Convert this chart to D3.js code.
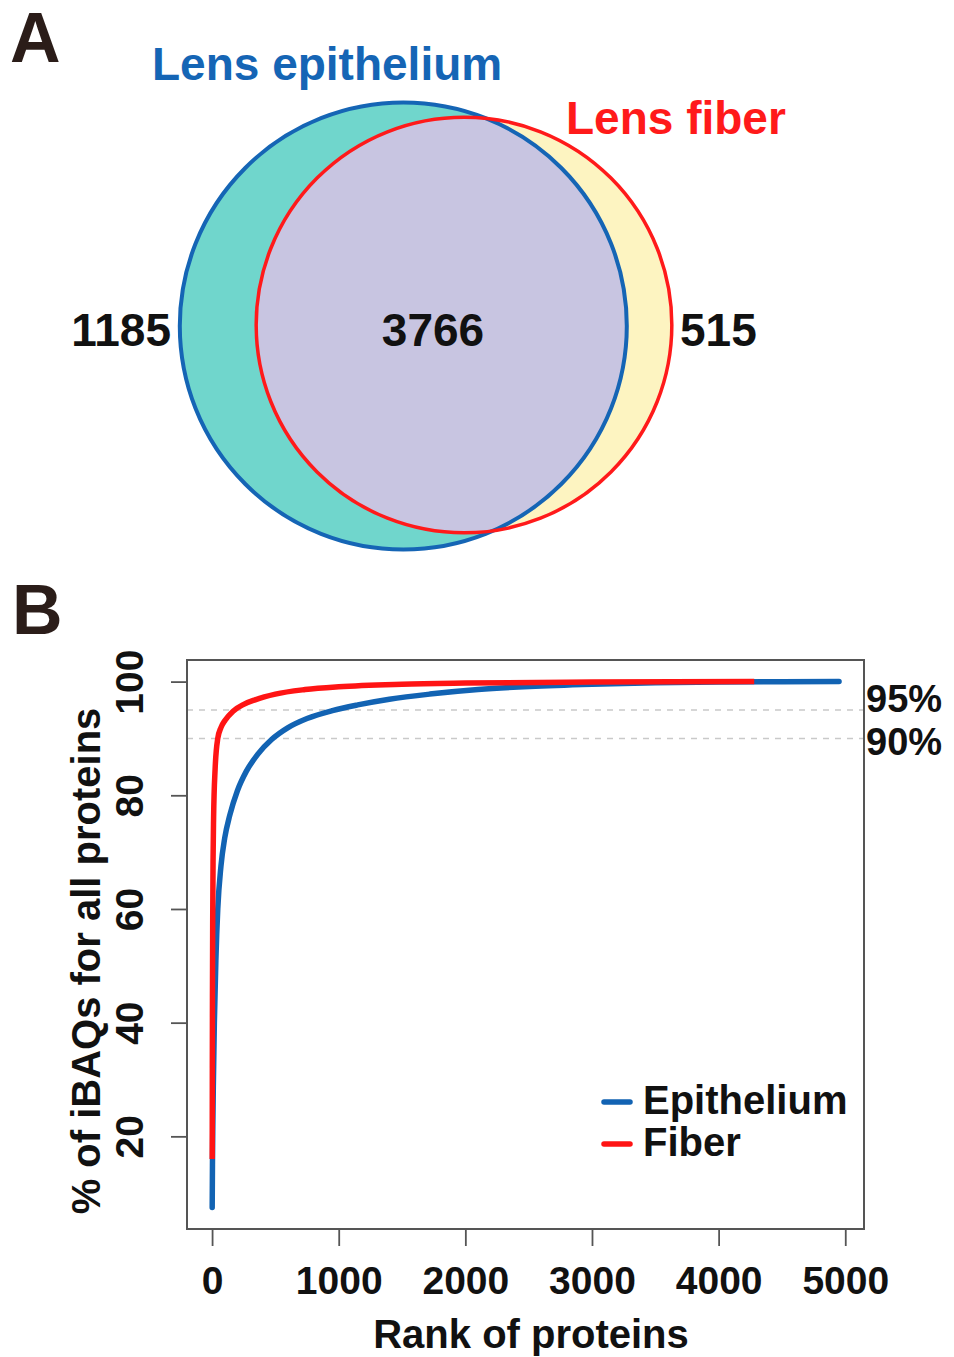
<!DOCTYPE html>
<html>
<head>
<meta charset="utf-8">
<script src="https://cdn.jsdelivr.net/npm/d3@7"></script>
<style>
  html, body { margin: 0; padding: 0; background: #fff; }
  svg text { font-family: "Liberation Sans", Arial, sans-serif; font-weight: bold; }
</style>
</head>
<body>
<svg id="chart" width="954" height="1357"></svg>
<script>
// ---------- Panel A data ----------
const setNames = ["Lens epithelium", "Lens fiber"];
const onlyEpithelium = 1185;
const shared = 3766;
const onlyFiber = 515;

// ---------- Panel B data (cumulative % of iBAQ vs protein rank) ----------
const epiRank = [1, 3, 6, 10, 18, 30, 45, 70, 100, 140, 200, 270, 360, 470, 600, 750, 950, 1150, 1400, 1719, 2100, 2508, 3000, 3500, 4000, 4500, 4951];
const epiPct  = [7.5, 15, 22, 29, 40, 51, 60, 67.5, 72.5, 76.5, 80.8, 84.2, 87.2, 89.8, 91.9, 93.5, 94.9, 95.9, 96.9, 97.8, 98.6, 99.15, 99.55, 99.8, 99.93, 99.98, 100];
const fibRank = [1, 2, 3, 5, 8, 12, 24, 45, 70, 103, 166, 250, 340, 500, 735, 1000, 1500, 2000, 3000, 4281];
const fibPct  = [16, 32, 44, 58, 69, 76, 84.6, 90, 91.9, 93.2, 94.8, 96.0, 96.8, 97.8, 98.6, 99.1, 99.55, 99.75, 99.92, 100];
const seriesNames = ["Epithelium", "Fiber"];
const xTicks = [0, 1000, 2000, 3000, 4000, 5000];
const yTicks = [20, 40, 60, 80, 100];
const refLines = [95, 90];

const BLUE = "#1263b3", RED = "#ff1414";
const svg = d3.select("#chart");

// ---------- Panel A ----------
const A = svg.append("g");
A.append("text").attr("x", 10).attr("y", 62).attr("font-size", 70).attr("fill", "#2b1d19").text("A");

const epiTotal = onlyEpithelium + shared, fibTotal = onlyFiber + shared;
const rScale = d3.scaleSqrt().domain([0, epiTotal]).range([0, 223.5]);
const cEpi = {x: 403.3, y: 326, r: rScale(epiTotal)};
const cFib = {x: 464, y: 325, r: rScale(fibTotal)};

const defs = svg.append("defs");
defs.append("clipPath").attr("id", "clipEpi").append("circle")
  .attr("cx", cEpi.x).attr("cy", cEpi.y).attr("r", cEpi.r);

A.append("circle").attr("cx", cEpi.x).attr("cy", cEpi.y).attr("r", cEpi.r).attr("fill", "#70d6cc");
A.append("circle").attr("cx", cFib.x).attr("cy", cFib.y).attr("r", cFib.r).attr("fill", "#fdf4c1");
A.append("circle").attr("cx", cFib.x).attr("cy", cFib.y).attr("r", cFib.r).attr("fill", "#c8c5e1").attr("clip-path", "url(#clipEpi)");
A.append("circle").attr("cx", cEpi.x).attr("cy", cEpi.y).attr("r", cEpi.r).attr("fill", "none").attr("stroke", "#1565b5").attr("stroke-width", 4);
A.append("circle").attr("cx", cFib.x).attr("cy", cFib.y).attr("r", cFib.r).attr("fill", "none").attr("stroke", "#ff1a1a").attr("stroke-width", 3.5);

A.append("text").attr("x", 152).attr("y", 80).attr("font-size", 46).attr("fill", "#1565b5").text(setNames[0]);
A.append("text").attr("x", 566).attr("y", 134).attr("font-size", 46).attr("fill", "#ff1a1a").text(setNames[1]);

A.append("text").attr("x", 171).attr("y", 346).attr("font-size", 46).attr("text-anchor", "end").attr("fill", "#111").text(onlyEpithelium);
A.append("text").attr("x", 433).attr("y", 346).attr("font-size", 46).attr("text-anchor", "middle").attr("fill", "#111").text(shared);
A.append("text").attr("x", 680).attr("y", 346).attr("font-size", 46).attr("fill", "#111").text(onlyFiber);

// ---------- Panel B ----------
const B = svg.append("g");
B.append("text").attr("x", 12).attr("y", 634).attr("font-size", 70).attr("fill", "#2b1d19").text("B");

const box = {l: 187, r: 864, t: 660, b: 1229};
const x = d3.scaleLinear().domain([-198, 5148]).range([box.l, box.r]);
const y = d3.scaleLinear().domain([3.7, 103.8]).range([box.b, box.t]);

// reference dashed lines
refLines.forEach(v => {
  B.append("line").attr("x1", box.l).attr("x2", box.r).attr("y1", y(v)).attr("y2", y(v))
    .attr("stroke", "#c9c9c9").attr("stroke-width", 1.5).attr("stroke-dasharray", "6,6");
});

// curves
const line = d3.line().x(d => x(d[0])).y(d => y(d[1])).curve(d3.curveMonotoneX);
const epiData = epiRank.map((r, i) => [r, epiPct[i]]);
const fibData = fibRank.map((r, i) => [r, fibPct[i]]);
B.append("path").datum(epiData).attr("d", line).attr("fill", "none").attr("stroke", BLUE)
  .attr("stroke-width", 5.5).attr("stroke-linecap", "round").attr("stroke-linejoin", "round");
B.append("path").datum(fibData).attr("d", line).attr("fill", "none").attr("stroke", RED)
  .attr("stroke-width", 5.5).attr("stroke-linecap", "butt").attr("stroke-linejoin", "round");

// box
B.append("rect").attr("x", box.l).attr("y", box.t).attr("width", box.r - box.l).attr("height", box.b - box.t)
  .attr("fill", "none").attr("stroke", "#555").attr("stroke-width", 2);

// x axis
const xAxis = B.append("g").attr("transform", `translate(0,${box.b})`)
  .call(d3.axisBottom(x).tickValues(xTicks).tickSize(17).tickPadding(20).tickFormat(d3.format("d")));
xAxis.select(".domain").remove();
xAxis.selectAll(".tick line").attr("stroke", "#555").attr("stroke-width", 1.8);
xAxis.selectAll(".tick text").attr("font-size", 39).attr("fill", "#111")
  .attr("font-family", "'Liberation Sans', Arial, sans-serif").attr("font-weight", "bold");

// y axis
const yAxis = B.append("g").attr("transform", `translate(${box.l},0)`)
  .call(d3.axisLeft(y).tickValues(yTicks).tickSize(16).tickFormat(d3.format("d")));
yAxis.select(".domain").remove();
yAxis.selectAll(".tick line").attr("stroke", "#555").attr("stroke-width", 1.8);
yAxis.selectAll(".tick text").attr("transform", "rotate(-90)").attr("x", 0).attr("y", -44).attr("dy", 0)
  .attr("text-anchor", "middle").attr("font-size", 39).attr("fill", "#111")
  .attr("font-family", "'Liberation Sans', Arial, sans-serif").attr("font-weight", "bold");

// axis titles
B.append("text").attr("x", 531).attr("y", 1348).attr("font-size", 40).attr("text-anchor", "middle").attr("fill", "#111").text("Rank of proteins");
B.append("text").attr("transform", `translate(100,961) rotate(-90)`).attr("font-size", 40).attr("text-anchor", "middle").attr("fill", "#111").text("% of iBAQs for all proteins");

// reference labels
B.append("text").attr("x", 866).attr("y", 712).attr("font-size", 38).attr("fill", "#111").text(refLines[0] + "%");
B.append("text").attr("x", 866).attr("y", 755).attr("font-size", 38).attr("fill", "#111").text(refLines[1] + "%");

// legend
const legend = B.append("g");
[[BLUE, seriesNames[0], 1102, 1114], [RED, seriesNames[1], 1144, 1156]].forEach(([c, t, ly, ty]) => {
  legend.append("line").attr("x1", 604).attr("x2", 630).attr("y1", ly).attr("y2", ly)
    .attr("stroke", c).attr("stroke-width", 5.5).attr("stroke-linecap", "round");
  legend.append("text").attr("x", 643).attr("y", ty).attr("font-size", 40).attr("fill", "#111").text(t);
});
</script>
</body>
</html>
